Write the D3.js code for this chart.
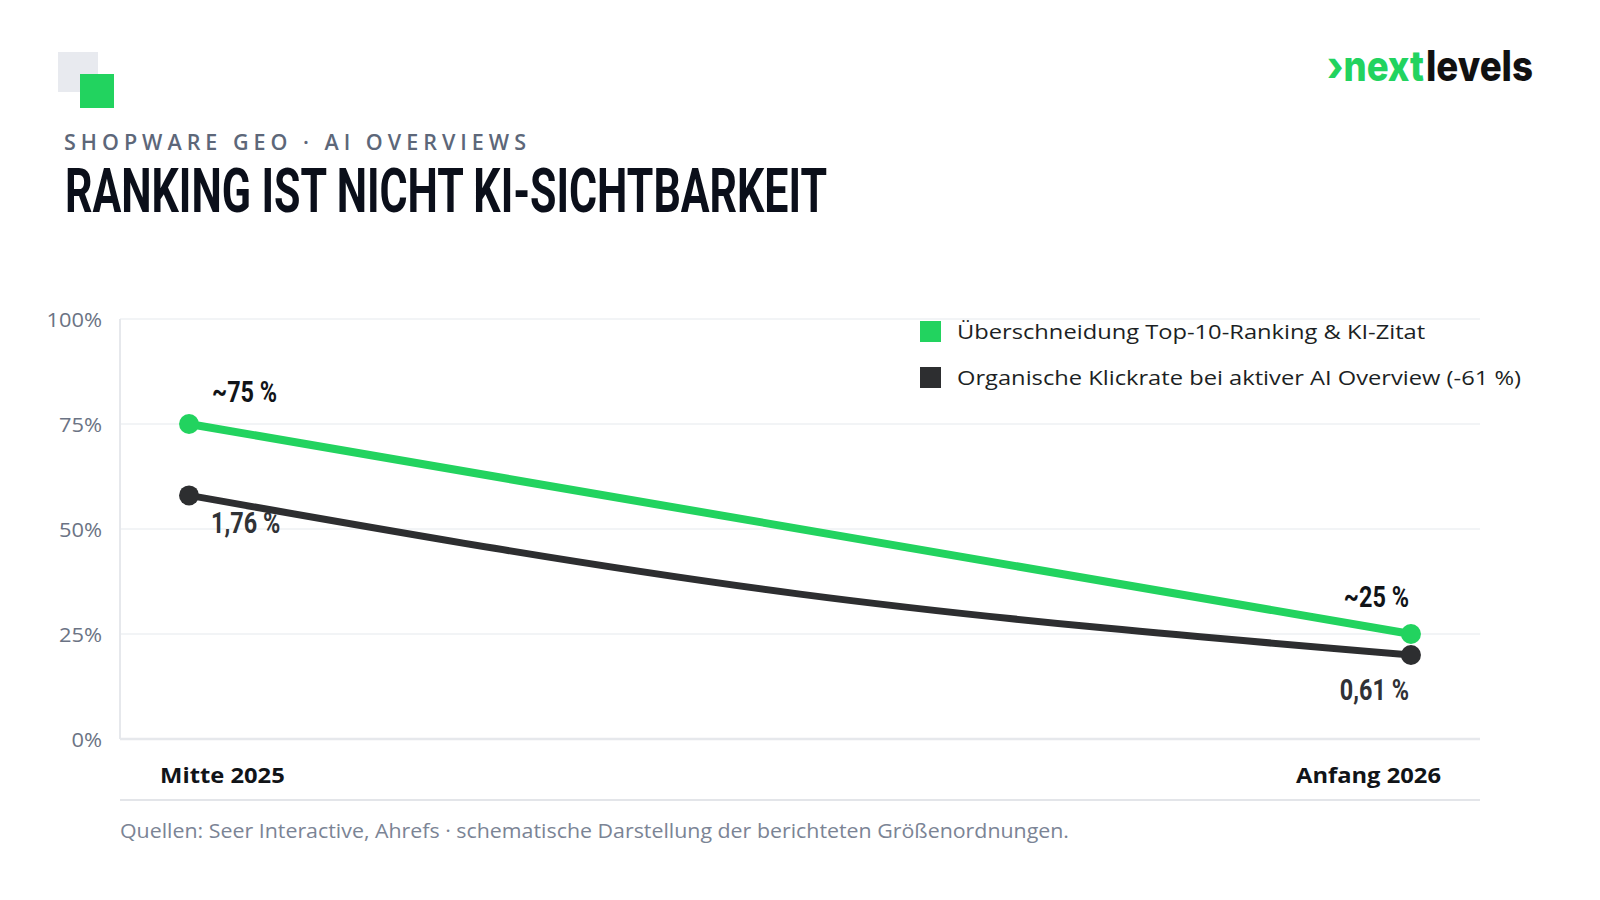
<!DOCTYPE html>
<html>
<head>
<meta charset="utf-8">
<script src="https://cdn.jsdelivr.net/npm/d3@7"></script>
<style>
  html, body { margin: 0; padding: 0; background: #ffffff; }
  svg { display: block; }
</style>
</head>
<body>
<svg id="chart" width="1600" height="900"></svg>
<script>
// ---- data ----
const categories = ["Mitte 2025", "Anfang 2026"];
const seriesNames = ["Überschneidung Top-10-Ranking & KI-Zitat", "Organische Klickrate bei aktiver AI Overview (-61 %)"];
const greenValues = [75, 25];
const darkValues = [58, 20];
const darkCurveMidValue = 34.5;          // where the drawn (curved) dark line passes half-way
const greenLabels = ["~75 %", "~25 %"];
const darkLabels = ["1,76 %", "0,61 %"];
const yTicks = [0, 25, 50, 75, 100];
const yTickLabels = ["0%", "25%", "50%", "75%", "100%"];
const kicker = "SHOPWARE GEO · AI OVERVIEWS";
const title = "RANKING IST NICHT KI-SICHTBARKEIT";
const footer = "Quellen: Seer Interactive, Ahrefs · schematische Darstellung der berichteten Größenordnungen.";
const logoParts = ["›next", "levels"];

const GREEN = "#22d35f";
const DARK = "#2d2e30";
const BODY = "'Open Sans', 'Noto Sans', sans-serif";
const COND = "Roboto, 'Liberation Sans', sans-serif";

const svg = d3.select("#chart");

// horizontally scale text glyphs by factor k (condense < 1, widen > 1)
function fit(sel, k) {
  sel.each(function () {
    const w = this.getComputedTextLength();
    d3.select(this).attr("textLength", w * k).attr("lengthAdjust", "spacingAndGlyphs");
  });
  return sel;
}

// ---- decorative squares ----
svg.append("rect").attr("x", 58).attr("y", 52).attr("width", 40).attr("height", 40).attr("fill", "#e8eaef");
svg.append("rect").attr("x", 80).attr("y", 74).attr("width", 34).attr("height", 34).attr("fill", GREEN);

// ---- logo (two words, each squeezed horizontally with a transform) ----
const logoSpans = [[1327, 97, GREEN], [1426, 107, "#111111"]];
logoParts.forEach((word, i) => {
  const [lx, lw, col] = logoSpans[i];
  const grp = svg.append("g");
  const t = grp.append("text").attr("x", 0).attr("y", 0)
    .attr("font-family", "Inter, 'Open Sans', sans-serif").attr("font-weight", 800)
    .attr("font-size", 42).attr("fill", col).text(word);
  const w = t.node().getComputedTextLength();
  grp.attr("transform", `translate(${lx},81) scale(${lw / w},1)`);
});

// ---- kicker & title ----
svg.append("text").attr("x", 64).attr("y", 150)
  .attr("font-family", BODY).attr("font-weight", 600).attr("font-size", 21.5)
  .attr("fill", "#5d6779").attr("textLength", 462).attr("lengthAdjust", "spacing")
  .text(kicker);

svg.append("text").attr("x", 65).attr("y", 212)
  .attr("font-family", COND).attr("font-weight", 700).attr("font-size", 62)
  .attr("fill", "#0b0f1a").attr("textLength", 762).attr("lengthAdjust", "spacingAndGlyphs")
  .text(title);

// ---- scales ----
const plotLeft = 120, plotRight = 1480, plotTop = 319, plotBottom = 739;
const x = d3.scalePoint().domain(categories).range([plotLeft, plotRight]).padding(0.0565);
const y = d3.scaleLinear().domain([0, 100]).range([plotBottom, plotTop]);

// ---- grid ----
const g = svg.append("g");
g.selectAll("line.grid").data(yTicks.filter(d => d > 0)).join("line")
  .attr("x1", plotLeft).attr("x2", plotRight)
  .attr("y1", d => y(d)).attr("y2", d => y(d))
  .attr("stroke", "#eef0f3").attr("stroke-width", 1.5);

g.append("line").attr("x1", plotLeft).attr("x2", plotLeft).attr("y1", y(100)).attr("y2", y(0))
  .attr("stroke", "#e6e8ec").attr("stroke-width", 2);
g.append("line").attr("x1", plotLeft).attr("x2", plotRight).attr("y1", y(0)).attr("y2", y(0))
  .attr("stroke", "#e6e8ec").attr("stroke-width", 2.5);

// y axis labels via d3.axisLeft
const yAxis = d3.axisLeft(y).tickValues(yTicks)
  .tickFormat((d, i) => yTickLabels[i]).tickSize(0).tickPadding(18);
const ya = svg.append("g").attr("transform", `translate(${plotLeft},0)`).call(yAxis);
ya.select(".domain").remove();
ya.selectAll("text").attr("font-family", BODY).attr("font-size", 19.5)
  .attr("fill", "#6b7384").attr("dy", "0.36em");
fit(ya.selectAll("text"), 1.12);

// x labels
const xl = svg.selectAll("text.xlab").data(categories).join("text")
  .attr("class", "xlab")
  .attr("x", (d, i) => i === 0 ? x(d) - 29 : x(d) + 30)
  .attr("y", 783)
  .attr("text-anchor", (d, i) => i === 0 ? "start" : "end")
  .attr("font-family", BODY).attr("font-weight", 700).attr("font-size", 21)
  .attr("fill", "#111418").text(d => d);
fit(xl, 1.13);

// separator + footer
svg.append("line").attr("x1", plotLeft).attr("x2", plotRight).attr("y1", 800).attr("y2", 800)
  .attr("stroke", "#e3e5e9").attr("stroke-width", 2);
svg.append("text").attr("x", 120).attr("y", 838)
  .attr("font-family", BODY).attr("font-size", 20).attr("fill", "#7b8495")
  .attr("textLength", 949).attr("lengthAdjust", "spacingAndGlyphs")
  .text(footer);

// ---- lines ----
const greenPts = categories.map((c, i) => [x(c), y(greenValues[i])]);
const darkPts = [
  [x(categories[0]), y(darkValues[0])],
  [(x(categories[0]) + x(categories[1])) / 2, y(darkCurveMidValue)],
  [x(categories[1]), y(darkValues[1])]
];

svg.append("path").attr("d", d3.line().curve(d3.curveMonotoneX)(darkPts))
  .attr("fill", "none").attr("stroke", DARK).attr("stroke-width", 7).attr("stroke-linecap", "round");
svg.append("path").attr("d", d3.line()(greenPts))
  .attr("fill", "none").attr("stroke", GREEN).attr("stroke-width", 8).attr("stroke-linecap", "round");

svg.selectAll("circle.dk").data(categories).join("circle").attr("class", "dk")
  .attr("cx", d => x(d)).attr("cy", (d, i) => y(darkValues[i])).attr("r", 10).attr("fill", DARK);
svg.selectAll("circle.gr").data(categories).join("circle").attr("class", "gr")
  .attr("cx", d => x(d)).attr("cy", (d, i) => y(greenValues[i])).attr("r", 10).attr("fill", GREEN);

// ---- value labels ----
const gl = svg.selectAll("text.gl").data(categories).join("text").attr("class", "gl")
  .attr("x", (d, i) => i === 0 ? x(d) + 23 : x(d) - 2)
  .attr("y", (d, i) => y(greenValues[i]) - (i === 0 ? 22 : 27))
  .attr("text-anchor", (d, i) => i === 0 ? "start" : "end")
  .attr("font-family", COND).attr("font-weight", 700).attr("font-size", 30)
  .attr("fill", "#111418").text((d, i) => greenLabels[i]);
fit(gl, 0.78);

const dl = svg.selectAll("text.dl").data(categories).join("text").attr("class", "dl")
  .attr("x", (d, i) => i === 0 ? x(d) + 22 : x(d) - 2)
  .attr("y", (d, i) => y(darkValues[i]) + (i === 0 ? 38 : 45))
  .attr("text-anchor", (d, i) => i === 0 ? "start" : "end")
  .attr("font-family", COND).attr("font-weight", 700).attr("font-size", 30)
  .attr("fill", "#303236").text((d, i) => darkLabels[i]);
fit(dl, 0.78);

// ---- legend ----
const legColors = [GREEN, DARK];
const leg = svg.selectAll("g.leg").data(seriesNames).join("g").attr("class", "leg")
  .attr("transform", (d, i) => `translate(920, ${321 + i * 46})`);
leg.append("rect").attr("width", 21).attr("height", 21).attr("fill", (d, i) => legColors[i]);
const lt = leg.append("text").attr("x", 37).attr("y", 18)
  .attr("font-family", BODY).attr("font-weight", 500).attr("font-size", 20.5).attr("fill", "#1c1f24")
  .text(d => d);
fit(lt, 1.155);
</script>
</body>
</html>
